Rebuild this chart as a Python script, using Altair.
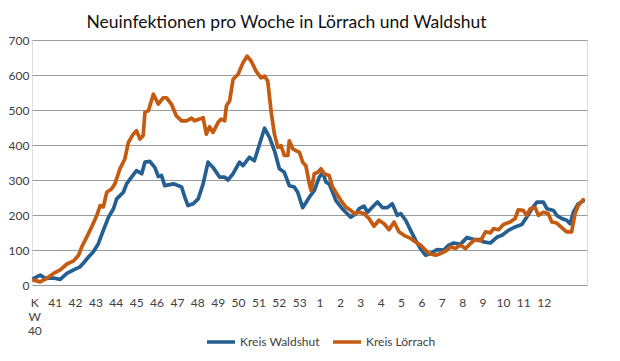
import json
import altair as alt
import pandas as pd

# Waldshut: day offset from start of KW 40, 7-day new infections
w_day = [0.6, 2.8, 4.6, 7.4, 9.7, 12.0, 14.3, 16.5, 17.7, 19.4, 21.1, 22.8, 24.5, 26.3, 28.0,
         29.1, 31.4, 32.5, 34.2, 35.9, 37.7, 38.8, 40.5, 42.2, 43.4, 44.5, 45.6, 48.6, 51.4,
         52.5, 53.6, 55.4, 57.1, 58.8, 60.5, 62.2, 64.5, 66.2, 67.3, 69.1, 71.3, 72.5, 74.7,
         76.4, 78.2, 79.9, 81.6, 83.3, 85.0, 86.7, 88.4, 90.1, 91.3, 93.0, 95.3, 97.0, 98.7,
         99.9, 101.0, 102.1, 103.3, 104.4, 106.1, 107.8, 109.5, 111.3, 112.4, 114.1, 115.3,
         117.0, 118.7, 120.4, 122.1, 123.8, 125.5, 126.7, 128.4, 130.1, 131.8, 133.5, 135.2,
         136.9, 139.2, 141.5, 143.2, 144.9, 147.2, 149.5, 151.8, 154.1, 155.2, 157.5, 159.8,
         161.5, 163.7, 166.0, 168.3, 170.0, 171.8, 173.5, 175.7, 176.9, 179.2, 180.3, 182.0,
         183.7, 184.9, 186.0, 187.7, 189.4]
w_val = [19, 28, 19, 20, 16, 33, 43, 52, 63, 80, 95, 118, 156, 194, 218,
         246, 265, 289, 308, 327, 318, 351, 353, 336, 310, 313, 284, 289, 280,
         251, 227, 232, 246, 289, 351, 336, 308, 308, 300, 318, 351, 341, 365,
         355, 403, 448, 422, 384, 332, 322, 284, 280, 265, 221, 251, 270, 308,
         322, 294, 289, 265, 242, 223, 208, 194, 204, 218, 225, 208,
         223, 237, 221, 221, 232, 199, 204, 185, 156, 128, 104, 85,
         90, 101, 100, 114, 120, 116, 136, 130, 130, 123, 120, 137,
         142, 156, 166, 173, 194, 218, 237, 237, 218, 213, 199, 190,
         185, 175, 208, 232, 240]

# Lörrach
l_day = [0.6, 2.8, 5.1, 7.4, 9.7, 12.0, 14.3, 16.0, 17.1, 18.8, 20.5, 22.3, 23.4, 24.5, 25.7,
         27.4, 28.5, 30.2, 31.9, 33.1, 34.8, 35.9, 37.1, 38.2, 38.8, 40.0, 41.7, 43.4, 45.1,
         46.2, 47.9, 49.6, 51.4, 53.1, 54.8, 55.9, 57.6, 58.8, 59.9, 61.0, 62.2, 63.9, 65.0,
         66.2, 66.8, 67.9, 69.1, 70.8, 72.5, 73.9, 75.3, 77.0, 78.7, 79.9, 81.0, 82.2, 83.3,
         84.5, 85.6, 86.7, 87.9, 88.4, 89.6, 90.7, 91.9, 93.0, 94.1, 95.3, 95.9, 97.0, 98.2,
         99.3, 100.4, 102.1, 103.3, 104.4, 106.1, 107.8, 109.6, 110.7, 112.4, 114.1, 115.8,
         117.5, 119.2, 121.0, 122.7, 124.4, 126.1, 127.8, 130.1, 131.8, 133.5, 135.2, 136.4,
         138.7, 140.4, 142.7, 143.8, 145.5, 147.2, 148.9, 150.6, 152.3, 154.1, 155.8, 157.5,
         158.6, 160.3, 162.0, 164.3, 166.0, 167.1, 168.8, 170.0, 171.2, 172.9, 174.0, 175.7,
         177.4, 178.6, 180.3, 182.0, 183.7, 185.4, 186.6, 187.7, 189.4]
l_val = [14, 9, 19, 33, 43, 60, 69, 85, 109, 137, 166, 199, 227, 223, 265,
         275, 289, 332, 360, 407, 431, 441, 417, 427, 493, 498, 545, 517, 535,
         535, 517, 483, 469, 469, 477, 469, 474, 478, 431, 452, 436, 464, 474,
         469, 512, 526, 588, 602, 635, 654, 640, 611, 592, 597, 583, 493, 431,
         393, 398, 370, 370, 412, 389, 384, 379, 351, 341, 289, 270, 318, 322,
         332, 318, 313, 280, 265, 242, 223, 213, 204, 208, 204, 190,
         168, 185, 175, 158, 180, 152, 142, 133, 123, 114, 100, 90,
         85, 90, 100, 109, 104, 114, 104, 118, 130, 126, 152, 149,
         161, 158, 173, 180, 190, 215, 213, 199, 218, 221, 199, 208,
         204, 180, 177, 164, 152, 152, 204, 227, 244]

series_names = ["Kreis Waldshut", "Kreis Lörrach"]
series_colors = ["#255E91", "#C55A11"]

week_labels = [["K", "W", "40"], "41", "42", "43", "44", "45", "46", "47", "48", "49",
               "50", "51", "52", "53", "1", "2", "3", "4", "5", "6", "7", "8", "9",
               "10", "11", "12"]
y_ticks = [0, 100, 200, 300, 400, 500, 600, 700]

rows = []
for d, v in zip(w_day, w_val):
    rows.append({"day": d, "value": v, "series": series_names[0], "order": 0})
for d, v in zip(l_day, l_val):
    rows.append({"day": d, "value": v, "series": series_names[1], "order": 1})
df = pd.DataFrame(rows)

tick_days = [0.8 + 7 * k for k in range(len(week_labels))]
label_expr = json.dumps(week_labels, ensure_ascii=False) + "[round((datum.value - 0.8) / 7)]"

FONT = "Lato"
TXT = "#404040"

chart = alt.Chart(df).mark_line(strokeWidth=3.7, strokeJoin="round", strokeCap="round").encode(
    x=alt.X("day:Q", scale=alt.Scale(domain=[0, 190.7], nice=False, zero=False),
            axis=alt.Axis(values=tick_days, labelExpr=label_expr, title=None, grid=False,
                          ticks=False, domain=False, labelFont=FONT, labelFontSize=12,
                          labelColor=TXT, labelPadding=12, labelBaseline="top",
                          labelLineHeight=14, labelFlush=False, labelOverlap=False)),
    y=alt.Y("value:Q", scale=alt.Scale(domain=[0, 700], nice=False),
            axis=alt.Axis(values=y_ticks, title=None, grid=True, gridColor="#9a9a9a",
                          gridWidth=1, ticks=False, domain=False, labelFont=FONT,
                          labelFontSize=12, labelColor=TXT, labelPadding=3)),
    color=alt.Color("series:N",
                    scale=alt.Scale(domain=series_names, range=series_colors),
                    legend=alt.Legend(title=None, orient="none", direction="horizontal",
                                      legendX=173, legendY=286, symbolType="stroke",
                                      symbolSize=784, symbolStrokeWidth=3.5,
                                      labelFont=FONT, labelFontSize=12, labelColor=TXT,
                                      labelOffset=3, columnPadding=6)),
    order=alt.Order("order:Q"),
    detail="series:N",
).properties(
    width=555,
    height=245,
    padding={"left": 24, "top": 32, "right": 25, "bottom": 68},
    autosize=alt.AutoSizeParams(type="none"),
    title=alt.TitleParams("Neuinfektionen pro Woche in Lörrach und Waldshut",
                          font=FONT, fontSize=17.5, fontWeight="normal", color="#111111",
                          anchor="middle", offset=3, dx=-23),
).configure_view(stroke=None).configure(background="white")

chart.save("out.html", embed_options={"renderer": "svg", "actions": False})
